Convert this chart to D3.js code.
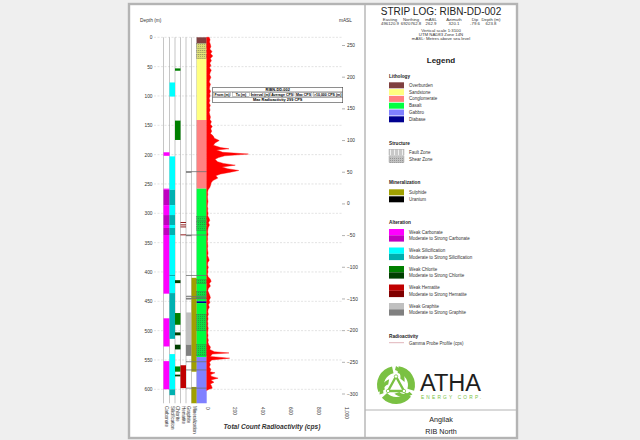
<!DOCTYPE html>
<html><head><meta charset="utf-8">
<script src="https://cdn.jsdelivr.net/npm/d3@7"></script>
<style>
body{margin:0;background:#efefef}
svg{display:block}
text{font-family:"Liberation Sans",Arial,sans-serif}
</style>
</head><body>
<svg id="c" width="640" height="440"></svg>
<script>
// ---------------- DATA ----------------
const depthTicks = [0,50,100,150,200,250,300,350,400,450,500,550,600];
const elevTicks = [250,200,150,100,50,0,-50,-100,-150,-200,-250,-300];
const radTicks = [0,200,400,600,800,1000];
const holeDepth = 623.8;

const lithology = [[0,10.5,"Overburden"],[10.5,141,"Sandstone"],[141,258,"Conglomerate"],[258,450,"Basalt"],[450,453,"Diabase"],[453,545,"Basalt"],[545,623.8,"Gabbro"]];
const shearZones = [[10.5,19],[21.6,26],[28.5,36],[306,312],[314,320],[323,329],[413,420],[433,441],[443,446],[472,500],[524,543]];
const faultDepths = [229,337,406,442,445,553,567,598];

const carbonate = [[196,202,"w"],[258,260,"w"],[260,286,"m"],[286,303,"w"],[303,320,"m"],[320,325,"w"],[325,337,"m"],[337,437,"w"],[479,527,"w"],[552,600,"w"]];
const silicification = [[77,101,"w"],[203,260,"w"],[260,286,"m"],[286,303,"w"],[303,320,"m"],[320,325,"w"],[325,337,"m"],[337,405,"w"],[405,407,"m"],[407,436,"w"],[436,514,"m"],[540,600,"w"],[600,610,"m"]];
const chlorite = [[53,57,"w"],[142,175,"w"],[414,419,"m"],[470,490,"w"],[503,508,"m"],[524,532,"m"],[561,570,"w"],[575,578,"m"]];
const hematite = [[315,316.5,"m"],[319,320.5,"m"],[322.5,324,"m"],[336,337.5,"m"],[559,598,"w"]];
const graphite = [[229,231,"m"],[337,339,"m"],[440,442,"w"],[445,447,"m"],[469,524,"w"],[524,543,"m"]];
const mineralization = [[410,570,"s"],[596,623.8,"s"]];

const radDepth = [0,4,8,12,16,20,24,28,32,36,40,44,48,52,56,60,64,68,72,76,80,84,88,92,96,100,104,108,112,116,120,124,128,132,136,140,144,148,152,156,160,164,168,172,176,180,184,188,190,192,196,199,202,205,208,212,215,218,221,224,227,230,233,236,240,244,248,252,256,260,264,268,272,276,280,284,288,292,296,300,304,308,312,316,320,324,328,332,336,340,344,348,352,356,360,364,368,372,376,380,384,388,392,396,400,404,408,412,416,420,424,428,432,436,440,444,448,452,456,460,464,468,472,476,480,484,488,492,496,500,504,508,512,516,520,524,528,532,536,538,540,544,547,550,554,558,562,566,570,572,575,578,581,584,588,591,594,598,600,602];
const radCps =   [18,24,20,26,30,22,38,28,44,26,34,22,30,20,33,25,21,30,23,18,27,22,19,28,21,25,18,23,17,26,20,24,18,22,27,23,34,26,40,29,36,27,46,55,90,60,48,100,160,70,115,299,130,85,60,78,120,205,110,150,230,170,100,65,80,45,32,28,22,10,6,8,5,7,9,6,4,8,6,10,7,16,22,12,20,11,8,6,10,5,7,4,6,8,5,7,10,6,13,18,8,6,12,7,9,5,10,25,32,18,27,12,8,15,22,27,17,23,12,19,10,8,12,7,10,6,9,7,11,8,6,10,7,12,9,15,27,22,55,160,40,26,165,36,20,26,18,30,24,60,26,36,82,30,52,26,34,40,16,0];

const headerLabels = ["Easting","Northing","mASL","Azimuth","Dip","Depth (m)"];
const headerValues = ["496120.9","6920762.8","262.9","320.1","-79.6","623.8"];
const summaryHeaders = ["From (m)","To (m)","Interval (m)","Average CPS","Max CPS",">10,000 CPS (m)"];
const maxRad = 299;
const columnTitles = ["Carbonate","Silicification","Chlorite","Hematite","Graphite","Mineralization"];
const lithoLegend = ["Overburden","Sandstone","Conglomerate","Basalt","Gabbro","Diabase"];
const structureLegend = ["Fault Zone","Shear Zone"];
const mineralLegend = ["Sulphide","Uranium"];
const alterationLegend = ["Carbonate","Silicification","Chlorite","Hematite","Graphite"];

// ---------------- STYLES ----------------
const lithoColor = {Overburden:"#7f3f3f",Sandstone:"#ffff80",Conglomerate:"#ff8080",Basalt:"#00ff40",Gabbro:"#8080ff",Diabase:"#000090"};
const altColor = {
  Carbonate:{w:"#ff00ff",m:"#c000c0"},
  Silicification:{w:"#00ffff",m:"#00b0b0"},
  Chlorite:{w:"#008000",m:"#004000"},
  Hematite:{w:"#c00000",m:"#800000"},
  Graphite:{w:"#c0c0c0",m:"#808080"}
};
const minColor = {s:"#a0a000",u:"#000000"};
const FONT = '"Liberation Sans",Arial,sans-serif';

const svg = d3.select("#c");
const defs = svg.append("defs");
const sp = defs.append("pattern").attr("id","shear").attr("patternUnits","userSpaceOnUse").attr("width",2).attr("height",2);
sp.append("rect").attr("width",2).attr("height",2).attr("fill","rgba(80,80,80,0.2)");
sp.append("rect").attr("width",1).attr("height",1).attr("fill","rgba(40,40,40,0.28)");
const fp = defs.append("pattern").attr("id","fault").attr("patternUnits","userSpaceOnUse").attr("width",4).attr("height",4);
fp.append("rect").attr("width",4).attr("height",4).attr("fill","#c8c8c8");
fp.append("rect").attr("x",2).attr("width",1).attr("height",4).attr("fill","#f0f0f0");

// sheet
const SX0 = 129, SX1 = 517, SY0 = 4, SY1 = 438, DIV = 365;
svg.append("rect").attr("width",640).attr("height",440).attr("fill","#efefef");
svg.append("rect").attr("x",SX0).attr("y",SY0).attr("width",SX1-SX0).attr("height",SY1-SY0)
  .attr("fill","#fff").attr("stroke","#b4b4b4").attr("stroke-width",2.4);
svg.append("line").attr("x1",DIV).attr("x2",DIV).attr("y1",SY0).attr("y2",SY1).attr("stroke","#b4b4b4").attr("stroke-width",1.4);
svg.append("line").attr("x1",DIV).attr("x2",SX1).attr("y1",410).attr("y2",410).attr("stroke","#b4b4b4").attr("stroke-width",1.2);

// scales
const yD = d3.scaleLinear().domain([0,600]).range([37.3,389.3]);
const yE = d3.scaleLinear().domain([250,-300]).range([45,393.5]);
const xR = d3.scaleLinear().domain([0,1000]).range([206.7,346]);
const cols = {Carbonate:[163.5,169.5],Silicification:[169.5,175],Chlorite:[175,180.5],Hematite:[180.5,186],Graphite:[186,191.5],Mineralization:[191.5,196.7],Lithology:[196.7,206.7]};

const g = svg.append("g");
g.selectAll(".grid").data(depthTicks).join("line")
  .attr("x1",154).attr("x2",343).attr("y1",d=>yD(d)).attr("y2",d=>yD(d))
  .attr("stroke","#d0d0d0").attr("stroke-width",0.6).attr("stroke-dasharray","2,1.5");

const sepX = [163.5,169.5,175,180.5,186,191.5,196.7];
g.selectAll(".sep").data(sepX).join("line")
  .attr("x1",d=>d).attr("x2",d=>d).attr("y1",yD(0)).attr("y2",yD(holeDepth))
  .attr("stroke","#a0a0a0").attr("stroke-width",0.6);

function drawCol(data, key, colorFn){
  const [x0,x1] = cols[key];
  g.append("g").selectAll("rect").data(data).join("rect")
    .attr("x",x0).attr("width",x1-x0)
    .attr("y",d=>yD(d[0])).attr("height",d=>Math.max(0.8,yD(d[1])-yD(d[0])))
    .attr("fill",colorFn);
}
drawCol(carbonate,"Carbonate",d=>altColor.Carbonate[d[2]]);
drawCol(silicification,"Silicification",d=>altColor.Silicification[d[2]]);
drawCol(chlorite,"Chlorite",d=>altColor.Chlorite[d[2]]);
drawCol(hematite,"Hematite",d=>altColor.Hematite[d[2]]);
drawCol(graphite,"Graphite",d=>altColor.Graphite[d[2]]);
drawCol(mineralization,"Mineralization",d=>minColor[d[2]]);
drawCol(lithology,"Lithology",d=>lithoColor[d[2]]);

g.append("g").selectAll("rect").data(shearZones).join("rect")
  .attr("x",cols.Lithology[0]).attr("width",cols.Lithology[1]-cols.Lithology[0])
  .attr("y",d=>yD(d[0])).attr("height",d=>yD(d[1])-yD(d[0]))
  .attr("fill","url(#shear)").attr("stroke","#555").attr("stroke-width",0.3);
g.append("g").selectAll("line").data(faultDepths).join("line")
  .attr("x1",186).attr("x2",206.7).attr("y1",d=>yD(d)).attr("y2",d=>yD(d))
  .attr("stroke","#707070").attr("stroke-width",0.8);

// radioactivity
const radData = radDepth.map((d,i)=>({d:d,c:radCps[i]}));
const area = d3.area().y(d=>yD(d.d)).x0(xR(0)).x1(d=>xR(d.c));
g.append("path").datum(radData).attr("d",area).attr("fill","#ff0000").attr("stroke","#ff0000").attr("stroke-width",0.4);

// depth axis
const ax = svg.append("g").attr("transform","translate(152.5,0)")
  .call(d3.axisLeft(yD).tickValues(depthTicks).tickSize(0).tickPadding(0));
ax.select(".domain").remove();
ax.selectAll("text").attr("font-size",4.8).attr("fill","#333").attr("font-family",FONT);
svg.append("text").attr("x",140).attr("y",21.5).attr("font-size",4.8).attr("fill","#333").text("Depth (m)");

// elevation axis
const ex = svg.append("g").attr("transform","translate(342,0)")
  .call(d3.axisRight(yE).tickValues(elevTicks).tickSize(3).tickPadding(2));
ex.select(".domain").remove();
ex.selectAll("line").attr("stroke","#666").attr("stroke-width",0.5);
ex.selectAll("text").attr("font-size",4.8).attr("fill","#333").attr("font-family",FONT);
svg.append("text").attr("x",352).attr("y",21.5).attr("text-anchor","end").attr("font-size",4.8).attr("fill","#333").text("mASL");

// radio axis
const rx = svg.append("g").attr("transform","translate(0,405)")
  .call(d3.axisBottom(xR).tickValues(radTicks).tickSize(0).tickPadding(0));
rx.select(".domain").remove();
rx.selectAll("text").attr("font-size",4.8).attr("fill","#333").attr("font-family",FONT)
  .attr("text-anchor","start").attr("dy",0).attr("y",0).attr("x",0)
  .attr("transform","translate(-1.6,2) rotate(90)");
svg.append("text").attr("x",272).attr("y",428.5).attr("text-anchor","middle").attr("font-size",6.6)
  .attr("font-weight","bold").attr("font-style","italic").attr("fill","#333").text("Total Count Radioactivity (cps)");

const colKeys = ["Carbonate","Silicification","Chlorite","Hematite","Graphite","Mineralization"];
svg.append("g").selectAll("text").data(columnTitles).join("text")
  .attr("transform",(d,i)=>{const c=cols[colKeys[i]];return `translate(${(c[0]+c[1])/2-1.6},406) rotate(90)`;})
  .attr("font-size",4.5).attr("fill","#333").text(d=>d);

// summary table
const tb = svg.append("g");
const tX = [212.7,231.5,250.5,270,294.3,312.7,342.7];
const tY = [87.3,91.9,97.4,102.7];
tb.append("rect").attr("x",tX[0]).attr("y",tY[0]).attr("width",tX[6]-tX[0]).attr("height",tY[3]-tY[0])
  .attr("fill","#fff").attr("stroke","#444").attr("stroke-width",0.6);
[tY[1],tY[2]].forEach(y=>tb.append("line").attr("x1",tX[0]).attr("x2",tX[6]).attr("y1",y).attr("y2",y).attr("stroke","#444").attr("stroke-width",0.5));
tb.selectAll(".cell").data(summaryHeaders).join("rect")
  .attr("x",(d,i)=>tX[i]+0.7).attr("width",(d,i)=>tX[i+1]-tX[i]-1.4).attr("y",tY[1]+0.7).attr("height",tY[2]-tY[1]-1.4)
  .attr("fill","none").attr("stroke","#666").attr("stroke-width",0.35);
tb.append("text").attr("x",(tX[0]+tX[6])/2).attr("y",90.8).attr("text-anchor","middle").attr("font-size",3.9).attr("font-weight","bold").text("RIBN-DD-002");
tb.selectAll(".th").data(summaryHeaders).join("text").attr("x",(d,i)=>(tX[i]+tX[i+1])/2).attr("y",95.9)
  .attr("text-anchor","middle").attr("font-size",3.5).attr("font-weight","bold").text(d=>d);
tb.append("text").attr("x",(tX[0]+tX[6])/2).attr("y",101.4).attr("text-anchor","middle").attr("font-size",3.9).attr("font-weight","bold").text(`Max Radioactivity ${maxRad} CPS`);

// ---------------- RIGHT PANEL ----------------
const R = svg.append("g");
const cx = (DIV+SX1)/2;
R.append("text").attr("x",cx).attr("y",15).attr("text-anchor","middle").attr("font-size",10).attr("fill","#222").text("STRIP LOG: RIBN-DD-002");
const hx = [390,411,431,454,475,491];
R.selectAll(".hl").data(headerLabels).join("text").attr("x",(d,i)=>hx[i]).attr("y",21.2).attr("text-anchor","middle").attr("font-size",4.3).attr("fill","#333").text(d=>d);
R.selectAll(".hv").data(headerValues).join("text").attr("x",(d,i)=>hx[i]).attr("y",25.1).attr("text-anchor","middle").attr("font-size",4.3).attr("fill","#333").text(d=>d);
["Vertical scale 1:3100","UTM NAD83 Zone 14N","mASL: Metres above sea level"].forEach((t,i)=>
  R.append("text").attr("x",cx).attr("y",31.8+i*4.2).attr("text-anchor","middle").attr("font-size",4.3).attr("fill","#333").text(t));
R.append("text").attr("x",cx).attr("y",62.5).attr("text-anchor","middle").attr("font-size",8).attr("font-weight","bold").attr("fill","#222").text("Legend");

const sx = 389, sw = 15, tx = 409, fs = 4.5;
function header(t,y){R.append("text").attr("x",sx).attr("y",y).attr("font-size",4.7).attr("font-weight","bold").attr("fill","#222").text(t);}
header("Lithology",77.6);
lithoLegend.forEach((n,i)=>{
  const y = 82.3 + i*6.8;
  R.append("rect").attr("x",sx).attr("y",y).attr("width",sw).attr("height",6).attr("fill",lithoColor[n]);
  R.append("text").attr("x",tx).attr("y",y+4.5).attr("font-size",fs).attr("fill","#333").text(n);
});
header("Structure",144.9);
structureLegend.forEach((n,i)=>{
  const y = 149.3 + i*7.4;
  R.append("rect").attr("x",sx).attr("y",y).attr("width",sw).attr("height",6).attr("fill",i===0?"url(#fault)":"#ddd").attr("stroke","#999").attr("stroke-width",0.4);
  if(i===1) R.append("rect").attr("x",sx).attr("y",y).attr("width",sw).attr("height",6).attr("fill","url(#shear)");
  R.append("text").attr("x",tx).attr("y",y+4.5).attr("font-size",fs).attr("fill","#333").text(n);
});
header("Mineralization",184);
mineralLegend.forEach((n,i)=>{
  const y = 189.3 + i*7;
  R.append("rect").attr("x",sx).attr("y",y).attr("width",sw).attr("height",6).attr("fill",minColor[i===0?"s":"u"]);
  R.append("text").attr("x",tx).attr("y",y+4.5).attr("font-size",fs).attr("fill","#333").text(n);
});
header("Alteration",223.6);
alterationLegend.forEach((n,i)=>{
  const y = 229 + i*18.5;
  R.append("rect").attr("x",sx).attr("y",y).attr("width",sw).attr("height",6.3).attr("fill",altColor[n].w);
  R.append("rect").attr("x",sx).attr("y",y+6.3).attr("width",sw).attr("height",6.3).attr("fill",altColor[n].m);
  R.append("text").attr("x",tx).attr("y",y+4.7).attr("font-size",fs).attr("fill","#333").text("Weak "+n);
  R.append("text").attr("x",tx).attr("y",y+11).attr("font-size",fs).attr("fill","#333").text("Moderate to Strong "+n);
});
header("Radioactivity",338.2);
R.append("line").attr("x1",sx).attr("x2",sx+sw).attr("y1",342.7).attr("y2",342.7).attr("stroke","#d8a0a8").attr("stroke-width",0.8);
R.append("text").attr("x",tx).attr("y",344.7).attr("font-size",fs).attr("fill","#333").text("Gamma Probe Profile (cps)");

// logo
const lg = R.append("g").attr("transform","translate(396,385)");
const green = "#7ac143";
const blade = d3.arc().innerRadius(12).outerRadius(19);
[0,120,240].forEach(a=>{
  lg.append("path").attr("d",blade({startAngle:(a+8)*Math.PI/180,endAngle:(a+108)*Math.PI/180})).attr("fill",green);
  lg.append("path").attr("transform",`rotate(${a})`).attr("d","M0,-19 C6.5,-15 9.5,-9 8.5,-3 L4.3,-6.5 C5.4,-11 2.2,-14 -1,-15 Z").attr("fill",green);
});
lg.append("path").attr("d","M0,-8.5 L8,6 L-8,6 Z").attr("fill","none").attr("stroke",green).attr("stroke-width",2.4).attr("stroke-linejoin","round");
[[0,-8.5],[8,6],[-8,6]].forEach(p=>lg.append("circle").attr("cx",p[0]).attr("cy",p[1]).attr("r",1.7).attr("fill","#fff").attr("stroke",green).attr("stroke-width",0.8));
R.append("text").attr("x",420).attr("y",391).attr("font-size",24.5).attr("fill","#1e1e1e").attr("textLength",61).attr("lengthAdjust","spacingAndGlyphs").text("ATHA");
R.append("text").attr("x",421).attr("y",398.5).attr("font-size",4.8).attr("fill",green).attr("textLength",60).attr("lengthAdjust","spacing").text("ENERGY CORP.");

R.append("text").attr("x",cx).attr("y",421.5).attr("text-anchor","middle").attr("font-size",7.2).attr("fill","#222").text("Angilak");
R.append("text").attr("x",cx).attr("y",433.5).attr("text-anchor","middle").attr("font-size",7.2).attr("fill","#222").text("RIB North");
</script>
</body></html>
